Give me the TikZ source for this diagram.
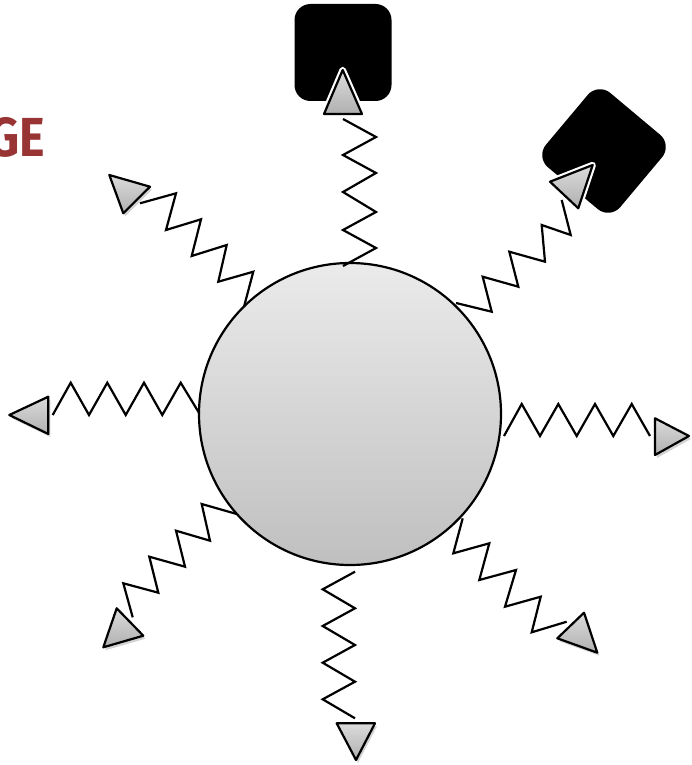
\documentclass[tikz,border=0pt]{standalone}
\usepackage{fontspec}
\newfontfamily\titlefont{Fira Sans}
\usetikzlibrary{shadows}
\definecolor{titlered}{RGB}{152,52,52}
\begin{document}
\begin{tikzpicture}[x=1pt,y=-1pt,
  zig/.style={line width=2.2pt, line join=miter, draw=black},
  tip/.style={draw=black, line width=2.2pt, line join=round, top color=gray!28, bottom color=gray!62,
    drop shadow={opacity=0.35, shadow xshift=2pt, shadow yshift=-3pt}},
  halo/.style={preaction={draw=white, line width=6.5pt, line join=round}},
  blackbox/.style={fill=black, draw=none, rounded corners=16pt, minimum size=97pt, inner sep=0pt},
  ball/.style={circle, draw=black, line width=2.2pt, minimum size=302pt, inner sep=0pt, top color=gray!16, bottom color=gray!50}]
\useasboundingbox (0,0) rectangle (691,765);

% title fragment
\node[anchor=base east, inner sep=0pt, text=titlered, xscale=0.88] (title) at (45,157)
  {\titlefont\bfseries\fontsize{55}{55}\selectfont GE};

% black targets
\node[blackbox] (boxtop) at (343,52.5) {};
\node[blackbox, rotate=-40] (boxright) at (604,151) {};

% central ball
\node[ball] (ball) at (350,414) {};

% zigzag emissions
\draw[zig] (343,266) -- (376,248) -- (343,230) -- (376,212) -- (343,192) -- (376,173) -- (343,155) -- (376,137) -- (343,119);
\draw[zig] (456,303) -- (491.7,311.7) -- (482.7,276.7) -- (518.3,286.7) -- (509.3,251.7) -- (545,261.7) -- (541.7,225) -- (570.7,235) -- (561.7,200);
\draw[zig] (504,436) -- (521.7,404) -- (540,436) -- (558.3,404) -- (576.7,436) -- (595,404) -- (613.3,436) -- (631.7,404) -- (650,436);
\draw[zig] (462.7,518.3) -- (453.3,553.3) -- (489.3,543.3) -- (479.3,580) -- (516,570) -- (505,606.7) -- (540.7,596.7) -- (531.7,632.3) -- (566.7,621.7);
\draw[zig] (355,571.7) -- (322.7,589.3) -- (355,608.3) -- (322.7,626) -- (355,645) -- (322.7,662.7) -- (355,681.7) -- (322.7,699.3) -- (355,718.3);
\draw[zig] (236.7,514) -- (201.7,504) -- (210,540.7) -- (176,530.7) -- (185,566.7) -- (149.3,556.7) -- (158.3,592.7) -- (123.3,583.3) -- (132.7,617.3);
\draw[zig] (199.3,413.3) -- (180.7,382.7) -- (162.3,415) -- (144,382.7) -- (125.7,415) -- (107.3,382.7) -- (89,415) -- (70.7,382.7) -- (52.7,415);
\draw[zig] (244,306.7) -- (253.3,271.7) -- (218.3,281.7) -- (226.7,245) -- (191.7,256) -- (201,219.3) -- (166,230) -- (176,193.3) -- (140,203.3);

% arrowheads
\path[tip, halo] (342.7,70) -- (324,114) -- (362,114) -- cycle;
\path[tip, halo] (592.7,165) -- (550,181.7) -- (578.3,208.3) -- cycle;
\path[tip] (655,418.3) -- (655,455) -- (689,436) -- cycle;
\path[tip] (557.3,638.3) -- (584,612.7) -- (597.3,652.7) -- cycle;
\path[tip] (336.7,723.3) -- (375,723.3) -- (356,760) -- cycle;
\path[tip] (116.7,608.3) -- (143.3,635.7) -- (103.3,647.3) -- cycle;
\path[tip] (9.3,415) -- (48.3,396.7) -- (48.3,434) -- cycle;
\path[tip] (109.3,175) -- (150,186.7) -- (123.3,213.3) -- cycle;
\end{tikzpicture}
\end{document}
